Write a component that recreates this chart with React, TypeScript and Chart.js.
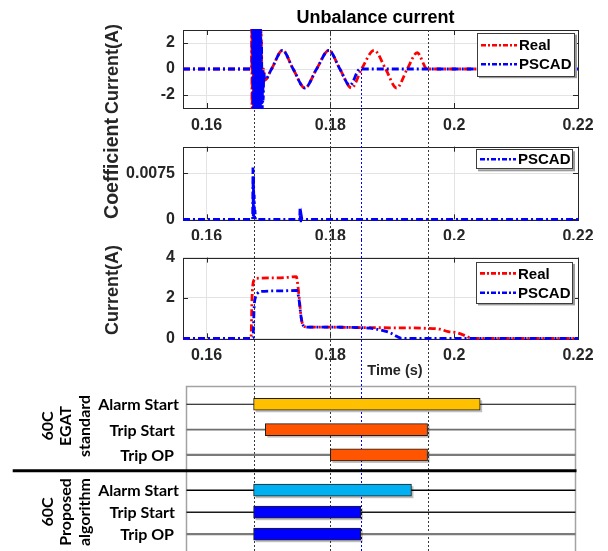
import React, { useEffect, useRef } from 'react';
import { Chart, registerables } from 'chart.js';

Chart.register(...registerables);

// ---------------- data ----------------
const X_MIN = 0.1562;
const X_MAX = 0.22;
const xTickValues = [0.16, 0.18, 0.2, 0.22];
const xTickLabels = ['0.16', '0.18', '0.2', '0.22'];

const markerTimes = [0.1676, 0.18, 0.1957]; // black dotted event lines
const pscadTripTime = 0.1849; // blue dotted event line

const seriesNames = ['Real', 'PSCAD'];

// Panel 1 : unbalance current
const p1Title = 'Unbalance current';
const p1YLabel = 'Current(A)';
const p1YTicks = [-2, 0, 2];
const p1YTickLabels = ['-2', '0', '2'];
const p1RealT = [0.1562, 0.16725, 0.1673, 0.16736, 0.16742, 0.16748, 0.16754, 0.1676, 0.1677, 0.16785,
  0.168, 0.1682, 0.1684, 0.1686, 0.1688, 0.169, 0.1692, 0.16942, 0.1705, 0.17228,
  0.17399, 0.17589, 0.17778, 0.17976, 0.18154, 0.18343, 0.18505, 0.18708, 0.18893, 0.1907,
  0.19242, 0.19403, 0.19565, 0.22];
const p1RealV = [0, 0, 8, -8, 8, -8, 8, -8, 6, -6,
  5, -5, 4, -4, 3, -2, 0, -0.85, 0, 1.43,
  0, -1.46, 0, 1.43, 0, -1.46, 0, 1.43, 0, -1.46,
  0, 1.25, 0, 0];
const p1PscadT = [0.1562, 0.1674, 0.16745, 0.16753, 0.16761, 0.16769, 0.16777, 0.16785, 0.16793, 0.16801,
  0.16809, 0.16817, 0.16825, 0.16833, 0.16841, 0.16849, 0.16857, 0.16865, 0.16873, 0.16881,
  0.16889, 0.16897, 0.16905, 0.16915, 0.16925, 0.16942, 0.1705, 0.17228, 0.17399, 0.17589,
  0.17778, 0.17976, 0.18154, 0.18316, 0.18477, 0.22];
const p1PscadV = [0, 0, 8, -8, 8, -8, 8, -8, 8, -8,
  8, -8, 8, -8, 8, -8, 8, -8, 5, -8,
  2, -6, 0, -2.5, -0.3, -0.85, 0, 1.43, 0, -1.46,
  0, 1.43, 0, -1.26, 0, 0];

// Panel 2 : coefficient
const p2YLabel = 'Coefficient';
const p2YTicks = [0, 0.0075];
const p2YTickLabels = ['0', '0.0075'];
const p2PscadT = [0.1562, 0.16745, 0.1675, 0.16755, 0.1676, 0.16765, 0.1677, 0.16776, 0.16782, 0.1679,
  0.17505, 0.1751, 0.17515, 0.1752, 0.17526, 0.17532, 0.1754, 0.22];
const p2PscadV = [0, 0, 0.0084, 0.0005, 0.007, 0.0004, 0.004, 0.0003, 0.0015, 0,
  0, 0.0018, 0.0002, 0.0012, 0.0001, 0.0005, 0, 0];

// Panel 3 : current magnitude
const p3YLabel = 'Current(A)';
const p3XLabel = 'Time (s)';
const p3YTicks = [0, 2, 4];
const p3YTickLabels = ['0', '2', '4'];
const p3RealT = [0.1562, 0.16718, 0.16735, 0.16756, 0.168, 0.172, 0.1745, 0.1749, 0.1753, 0.17565,
  0.1762, 0.18, 0.185, 0.19, 0.195, 0.1977, 0.19904, 0.2004, 0.202, 0.20282, 0.22];
const p3RealV = [0, 0, 2.0, 2.8, 2.97, 3.0, 3.05, 2.2, 1.0, 0.62,
  0.56, 0.55, 0.53, 0.52, 0.5, 0.45, 0.33, 0.28, 0.1, 0, 0];
const p3PscadT = [0.1562, 0.1675, 0.1677, 0.16792, 0.1683, 0.16861, 0.172, 0.17454, 0.1749, 0.1753,
  0.1757, 0.1762, 0.18, 0.18477, 0.18639, 0.18801, 0.18962, 0.1907, 0.19151, 0.22];
const p3PscadV = [0, 0, 1.6, 2.05, 2.25, 2.32, 2.35, 2.37, 2.0, 1.0,
  0.6, 0.55, 0.55, 0.53, 0.5, 0.42, 0.28, 0.1, 0, 0];

// Timing diagram
const egatGroup = ['60C', 'EGAT', 'standard'];
const egatRows = ['Alarm Start', 'Trip Start', 'Trip OP'];
const egatStart = [0.1676, 0.1695, 0.18];
const egatEnd = [0.2042, 0.1957, 0.1957];
const propGroup = ['60C', 'Proposed', 'algorithm'];
const propRows = ['Alarm Start', 'Trip Start', 'Trip OP'];
const propStart = [0.1676, 0.1676, 0.1676];
const propEnd = [0.1931, 0.1849, 0.1849];

// ---------------- styles ----------------
const FONT = '"Liberation Sans", Arial, Helvetica, sans-serif';
const CFONT = 'Lato, "Open Sans", sans-serif';
const AXIS_COLOR = '#262626';
const GRID_COLOR = '#e3e3e3';
const REAL_COLOR = '#ff0000';
const PSCAD_COLOR = '#0000ff';
const LINE_DASH = [7, 3, 2, 3];
const egatColors = ['#ffc000', '#ff5500', '#ff5500'];
const propColors = ['#00b0f0', '#0000ff', '#0000ff'];
const rowLabelRight = [179, 175, 174];
const egatRowLines = [
  { color: '#000000', width: 1.2 },
  { color: '#6e6e6e', width: 1.8 },
  { color: '#7a7a7a', width: 2.2 },
];
const propRowLines = [
  { color: '#000000', width: 1.4 },
  { color: '#1a1a1a', width: 1.4 },
  { color: '#7a7a7a', width: 2.2 },
];

function lineDataset(label: string, T: number[], V: number[], color: string, order: number, mode: string) {
  return {
    label,
    data: T.map((t, i) => ({ x: t, y: V[i] })),
    borderColor: color,
    backgroundColor: color,
    borderWidth: 2.8,
    borderDash: LINE_DASH,
    pointRadius: 0,
    fill: false,
    order,
    cubicInterpolationMode: mode === 'monotone' ? 'monotone' : 'default',
    tension: 0,
  };
}

function drawMarkers(ctx: CanvasRenderingContext2D, xs: any, yTop: number, yBottom: number, blueTop: number) {
  ctx.save();
  ctx.lineWidth = 1;
  ctx.setLineDash([2, 2]);
  ctx.strokeStyle = '#3a3a3a';
  markerTimes.forEach((t) => {
    const px = Math.round(xs.getPixelForValue(t)) + 0.5;
    ctx.beginPath();
    ctx.moveTo(px, yTop);
    ctx.lineTo(px, yBottom);
    ctx.stroke();
  });
  ctx.strokeStyle = '#0000ff';
  const bx = Math.round(xs.getPixelForValue(pscadTripTime)) + 0.5;
  ctx.beginPath();
  ctx.moveTo(bx, blueTop);
  ctx.lineTo(bx, yBottom);
  ctx.stroke();
  ctx.restore();
}

type LegendBox = { dx: number; dy: number; w: number; h: number; row0: number; gap: number };

type PanelOpts = {
  yTicks: number[];
  markerFromArea: boolean;
  markerTop: number;
  legend: LegendBox;
  yLabel: string;
  yLabelSize: number;
  yLabelX: number;
  yLabelY: number;
  title?: string;
  titleX?: number;
  titleY?: number;
  xLabel?: string;
  xLabelX?: number;
  xLabelY?: number;
};

function panelPlugin(o: PanelOpts) {
  return {
    id: 'panelDecor',
    beforeDatasetsDraw(chart: any) {
      const { ctx, chartArea: a, scales } = chart;
      const xs = scales.x;
      const ys = scales.y;
      ctx.save();
      ctx.strokeStyle = AXIS_COLOR;
      ctx.lineWidth = 1;
      ctx.strokeRect(Math.round(a.left) + 0.5, Math.round(a.top) + 0.5,
        Math.round(a.right - a.left), Math.round(a.bottom - a.top));
      ctx.beginPath();
      xTickValues.forEach((v) => {
        const px = Math.round(xs.getPixelForValue(v)) + 0.5;
        ctx.moveTo(px, a.bottom);
        ctx.lineTo(px, a.bottom - 5);
        ctx.moveTo(px, a.top);
        ctx.lineTo(px, a.top + 5);
      });
      o.yTicks.forEach((v) => {
        const py = Math.round(ys.getPixelForValue(v)) + 0.5;
        ctx.moveTo(a.left, py);
        ctx.lineTo(a.left + 5, py);
        ctx.moveTo(a.right, py);
        ctx.lineTo(a.right - 5, py);
      });
      ctx.stroke();
      ctx.restore();
      drawMarkers(ctx, xs, o.markerFromArea ? a.top : o.markerTop, chart.height,
        o.markerFromArea ? ys.getPixelForValue(0) : o.markerTop);
    },
    afterDatasetsDraw(chart: any) {
      const { ctx, chartArea: a } = chart;
      const L = o.legend;
      const lx = a.right - L.dx - L.w;
      const ly = a.top + L.dy;
      ctx.save();
      ctx.fillStyle = '#9a9a9a';
      ctx.fillRect(lx + 2, ly + 2, L.w, L.h);
      ctx.fillStyle = '#ffffff';
      ctx.fillRect(lx, ly, L.w, L.h);
      ctx.strokeStyle = '#3c3c3c';
      ctx.lineWidth = 1;
      ctx.strokeRect(Math.round(lx) + 0.5, Math.round(ly) + 0.5, Math.round(L.w) - 1, Math.round(L.h) - 1);
      chart.data.datasets.forEach((d: any, i: number) => {
        const cy = ly + L.row0 + i * L.gap;
        ctx.strokeStyle = d.borderColor;
        ctx.lineWidth = 2.6;
        ctx.setLineDash([5, 2, 2, 2]);
        ctx.beginPath();
        ctx.moveTo(lx + 4, cy);
        ctx.lineTo(lx + 40, cy);
        ctx.stroke();
        ctx.setLineDash([]);
        ctx.fillStyle = '#000000';
        ctx.font = `bold 15px ${FONT}`;
        ctx.textAlign = 'left';
        ctx.textBaseline = 'middle';
        ctx.fillText(d.label, lx + 42, cy + 1);
      });
      // y label
      ctx.save();
      ctx.translate(o.yLabelX, o.yLabelY);
      ctx.rotate(-Math.PI / 2);
      ctx.fillStyle = AXIS_COLOR;
      ctx.font = `bold ${o.yLabelSize}px ${FONT}`;
      ctx.textAlign = 'center';
      ctx.textBaseline = 'middle';
      ctx.fillText(o.yLabel, 0, 0);
      ctx.restore();
      if (o.title) {
        ctx.fillStyle = '#000000';
        ctx.font = `bold 18px ${FONT}`;
        ctx.textAlign = 'center';
        ctx.textBaseline = 'middle';
        ctx.fillText(o.title, o.titleX as number, o.titleY as number);
      }
      if (o.xLabel) {
        ctx.fillStyle = AXIS_COLOR;
        ctx.font = `bold 14.5px ${FONT}`;
        ctx.textAlign = 'center';
        ctx.textBaseline = 'middle';
        ctx.fillText(o.xLabel, o.xLabelX as number, o.xLabelY as number);
      }
      ctx.restore();
    },
  };
}

function panelConfig(args: {
  datasets: any[];
  yMin: number; yMax: number; yTicks: number[]; yTickLabels: string[];
  padTop: number; xAxisH: number; clip: any; opts: PanelOpts;
}) {
  return {
    type: 'line',
    data: { datasets: args.datasets },
    options: {
      animation: false,
      responsive: false,
      devicePixelRatio: 1,
      events: [],
      layout: { padding: { top: args.padTop, right: 30, left: 0, bottom: 0 } },
      datasets: { line: { clip: args.clip } },
      plugins: { legend: { display: false }, tooltip: { enabled: false }, title: { display: false } },
      scales: {
        x: {
          type: 'linear',
          min: X_MIN,
          max: X_MAX,
          afterBuildTicks: (s: any) => { s.ticks = xTickValues.map((v) => ({ value: v })); },
          afterFit: (s: any) => { s.height = args.xAxisH; },
          ticks: {
            callback: (_v: any, i: number) => xTickLabels[i],
            font: { family: FONT, size: 16, weight: 'bold' },
            color: AXIS_COLOR,
            padding: 8,
            maxRotation: 0,
            autoSkip: false,
          },
          grid: { color: GRID_COLOR, drawTicks: false, lineWidth: 1 },
          border: { display: false },
        },
        y: {
          type: 'linear',
          min: args.yMin,
          max: args.yMax,
          afterBuildTicks: (s: any) => { s.ticks = args.yTicks.map((v) => ({ value: v })); },
          afterFit: (s: any) => { s.width = 183; },
          ticks: {
            callback: (_v: any, i: number) => args.yTickLabels[i],
            font: { family: FONT, size: 16, weight: 'bold' },
            color: AXIS_COLOR,
            padding: 8,
            autoSkip: false,
          },
          grid: { color: GRID_COLOR, drawTicks: false, lineWidth: 1 },
          border: { display: false },
        },
      },
    },
    plugins: [panelPlugin(args.opts)],
  };
}

type TimingOpts = {
  boxTop: number | null;
  group: string[];
  groupCY: number;
  separatorY: number | null;
  rowLines: { color: string; width: number }[];
};

function timingPlugin(o: TimingOpts) {
  return {
    id: 'timingDecor',
    beforeDatasetsDraw(chart: any) {
      const { ctx, chartArea: a, scales } = chart;
      const bl = Math.round(a.left + 3) + 0.5;
      const br = Math.round(a.right - 3) + 0.5;
      ctx.save();
      // frame
      ctx.strokeStyle = '#a3a3a3';
      ctx.lineWidth = 1.5;
      ctx.beginPath();
      const top = o.boxTop === null ? 0 : o.boxTop;
      ctx.moveTo(bl, chart.height);
      ctx.lineTo(bl, top);
      if (o.boxTop !== null) ctx.lineTo(br, top); else ctx.moveTo(br, top);
      ctx.lineTo(br, chart.height);
      ctx.stroke();
      ctx.restore();
      drawMarkers(ctx, scales.x, 0, chart.height, 0);
      ctx.save();
      // row lines and row labels
      chart.data.labels.forEach((lab: string, i: number) => {
        const y = scales.y.getPixelForValue(i);
        ctx.strokeStyle = o.rowLines[i].color;
        ctx.lineWidth = o.rowLines[i].width;
        ctx.beginPath();
        ctx.moveTo(bl, y);
        ctx.lineTo(br, y);
        ctx.stroke();
        ctx.fillStyle = '#000000';
        ctx.font = `bold 16px ${CFONT}`;
        ctx.textAlign = 'right';
        ctx.textBaseline = 'middle';
        ctx.fillText(lab, rowLabelRight[i], y + 1);
      });
      // separator
      if (o.separatorY !== null) {
        ctx.strokeStyle = '#000000';
        ctx.lineWidth = 3;
        ctx.beginPath();
        ctx.moveTo(12.7, o.separatorY);
        ctx.lineTo(br + 1, o.separatorY);
        ctx.stroke();
      }
      // bar shadows
      const meta = chart.getDatasetMeta(0);
      meta.data.forEach((el: any) => {
        const p = el.getProps(['x', 'y', 'base', 'height'], true);
        ctx.fillStyle = 'rgba(0,0,0,0.25)';
        ctx.fillRect(Math.min(p.x, p.base) + 2, p.y - p.height / 2 + 2, Math.abs(p.x - p.base), p.height);
      });
      // group label (rotated)
      const xs = [48.3, 66, 85];
      ctx.fillStyle = '#000000';
      ctx.font = `bold 16px ${CFONT}`;
      ctx.textAlign = 'center';
      ctx.textBaseline = 'middle';
      o.group.forEach((txt, i) => {
        ctx.save();
        ctx.translate(xs[i], o.groupCY);
        ctx.rotate(-Math.PI / 2);
        ctx.fillText(txt, 0, 0);
        ctx.restore();
      });
      ctx.restore();
    },
  };
}

function timingConfig(rows: string[], starts: number[], ends: number[], colors: string[],
  padTop: number, padBottom: number, o: TimingOpts) {
  return {
    type: 'bar',
    data: {
      labels: rows,
      datasets: [{
        data: starts.map((s, i) => [s, ends[i]]),
        backgroundColor: colors,
        borderColor: '#1e1e1e',
        borderWidth: 1,
        borderSkipped: false,
        barThickness: 12,
      }],
    },
    options: {
      indexAxis: 'y',
      animation: false,
      responsive: false,
      devicePixelRatio: 1,
      events: [],
      layout: { padding: { top: padTop, right: 30, left: 183, bottom: padBottom } },
      plugins: { legend: { display: false }, tooltip: { enabled: false } },
      scales: {
        x: { type: 'linear', min: X_MIN, max: X_MAX, display: false },
        y: { type: 'category', display: false, offset: true },
      },
    },
    plugins: [timingPlugin(o)],
  };
}

export default function App() {
  const r1 = useRef<HTMLCanvasElement>(null);
  const r2 = useRef<HTMLCanvasElement>(null);
  const r3 = useRef<HTMLCanvasElement>(null);
  const r4 = useRef<HTMLCanvasElement>(null);
  const r5 = useRef<HTMLCanvasElement>(null);

  useEffect(() => {
    const charts: Chart[] = [];
    const c1 = panelConfig({
      datasets: [
        lineDataset(seriesNames[0], p1RealT, p1RealV, REAL_COLOR, 2, 'monotone'),
        lineDataset(seriesNames[1], p1PscadT, p1PscadV, PSCAD_COLOR, 1, 'monotone'),
      ],
      yMin: -3, yMax: 3, yTicks: p1YTicks, yTickLabels: p1YTickLabels,
      padTop: 30, xAxisH: 22, clip: 1,
      opts: {
        yTicks: p1YTicks, markerFromArea: true, markerTop: 0,
        legend: { dx: 3, dy: 2.7, w: 98, h: 43.5, row0: 12.5, gap: 19 },
        yLabel: p1YLabel, yLabelSize: 18, yLabelX: 113, yLabelY: 69,
        title: p1Title, titleX: 375.5, titleY: 18.5,
      },
    });
    // canvas 2 starts at y=110 (overlaps canvas 1 by 20px so its label can extend upward)
    const c2 = panelConfig({
      datasets: [lineDataset(seriesNames[1], p2PscadT, p2PscadV, PSCAD_COLOR, 1, 'linear')],
      yMin: 0, yMax: 0.0118, yTicks: p2YTicks, yTickLabels: p2YTickLabels,
      padTop: 36.7, xAxisH: 20.7, clip: 3,
      opts: {
        yTicks: p2YTicks, markerFromArea: false, markerTop: 20,
        legend: { dx: 5, dy: 2.6, w: 97, h: 20, row0: 10, gap: 19 },
        yLabel: p2YLabel, yLabelSize: 19.5, yLabelX: 113, yLabelY: 58.5,
      },
    });
    const c3 = panelConfig({
      datasets: [
        lineDataset(seriesNames[0], p3RealT, p3RealV, REAL_COLOR, 2, 'monotone'),
        lineDataset(seriesNames[1], p3PscadT, p3PscadV, PSCAD_COLOR, 1, 'monotone'),
      ],
      yMin: 0, yMax: 4, yTicks: p3YTicks, yTickLabels: p3YTickLabels,
      padTop: 16.7, xAxisH: 41.7, clip: 3,
      opts: {
        yTicks: p3YTicks, markerFromArea: false, markerTop: 0,
        legend: { dx: 5, dy: 4.3, w: 97, h: 41.5, row0: 11.5, gap: 19.4 },
        yLabel: p3YLabel, yLabelSize: 18, yLabelX: 113, yLabelY: 50,
        xLabel: p3XLabel, xLabelX: 395, xLabelY: 131,
      },
    });
    const c4 = timingConfig(egatRows, egatStart, egatEnd, egatColors, 11.6, 1.4, {
      boxTop: 6.5, group: egatGroup, groupCY: 46, separatorY: null, rowLines: egatRowLines,
    });
    const c5 = timingConfig(propRows, propStart, propEnd, propColors, 10.2, 5.8, {
      boxTop: null, group: propGroup, groupCY: 43, separatorY: 1.7, rowLines: propRowLines,
    });
    const refs = [r1, r2, r3, r4, r5];
    const cfgs = [c1, c2, c3, c4, c5];
    refs.forEach((r, i) => {
      if (r.current) charts.push(new Chart(r.current, cfgs[i] as any));
    });
    return () => charts.forEach((c) => c.destroy());
  }, []);

  const cs = (top: number): React.CSSProperties => ({ position: 'absolute', left: 0, top });
  return (
    <div style={{ position: 'absolute', left: 0, top: 0, width: 608, height: 551, background: '#ffffff', overflow: 'hidden' }}>
      <canvas ref={r1} width={608} height={130} style={cs(0)} />
      <canvas ref={r2} width={608} height={130} style={cs(110)} />
      <canvas ref={r3} width={608} height={140} style={cs(240)} />
      <canvas ref={r4} width={608} height={89} style={cs(380)} />
      <canvas ref={r5} width={608} height={82} style={cs(469)} />
    </div>
  );
}
